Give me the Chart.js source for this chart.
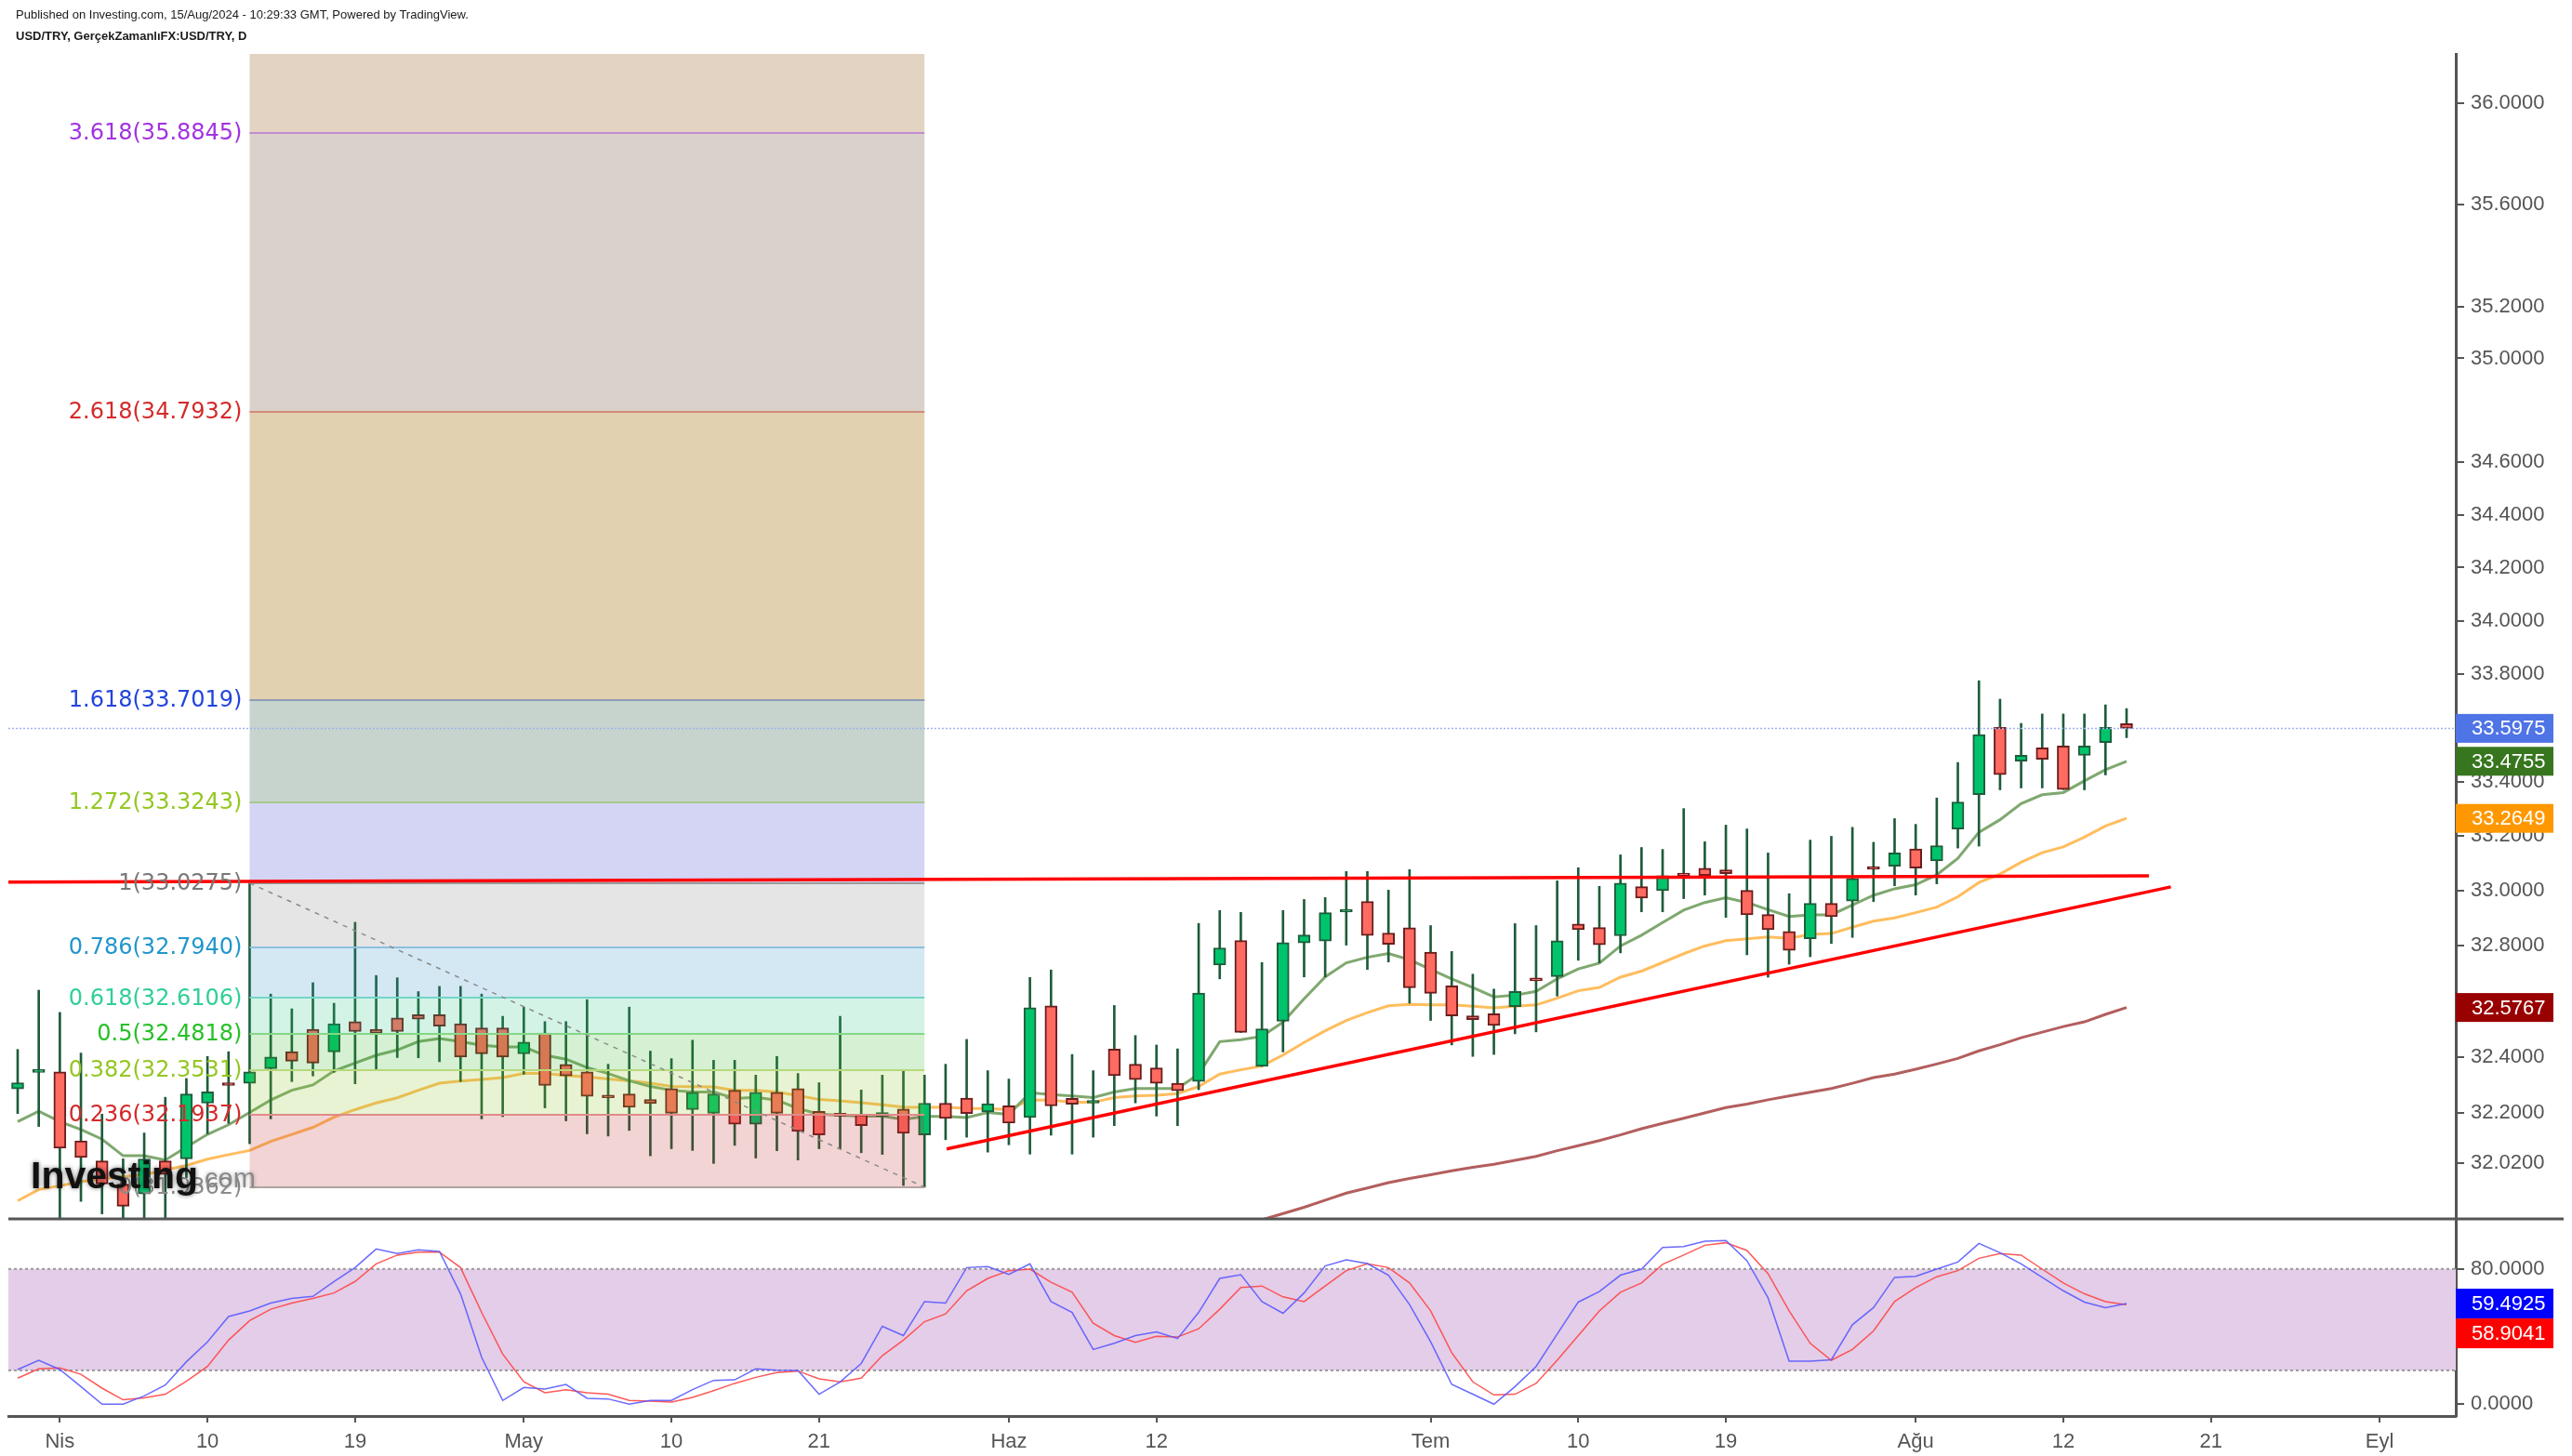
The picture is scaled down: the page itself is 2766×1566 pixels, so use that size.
<!DOCTYPE html>
<html lang="tr">
<head>
<meta charset="utf-8">
<title>USD/TRY</title>
<script src="https://cdn.jsdelivr.net/npm/chart.js@4.4.1/dist/chart.umd.min.js"></script>
<style>
  html, body { margin:0; padding:0; background:#ffffff; }
  #stage { position:relative; width:2766px; height:1566px; overflow:hidden; background:#fff; }
  canvas { position:absolute; left:0; }
  #main { top:0; }
  #osc { top:1281px; }
  .hdr { position:absolute; left:17px; font-family:'Liberation Sans', Arial, sans-serif; font-size:13px; line-height:15px; color:#1a1a1a; white-space:nowrap; }
</style>
</head>
<body>
<div id="stage">
  <canvas id="main" width="2766" height="1340"></canvas>
  <canvas id="osc" width="2766" height="285"></canvas>
  <div class="hdr" style="top:8px;">Published on Investing.com, 15/Aug/2024 - 10:29:33 GMT, Powered by TradingView.</div>
  <div class="hdr" style="top:31px;font-weight:bold;">USD/TRY, GerçekZamanlıFX:USD/TRY, D</div>
</div>
<script>
// ---------------- DATA (daily candles, 28 Mar 2024 .. 15 Aug 2024, index 0..100) ----------------
const open = [
 32.285,32.344,32.346,32.100,32.029,31.947,31.912,32.029,32.036,32.234,
 32.301,32.305,32.357,32.418,32.498,32.417,32.526,32.498,32.539,32.551,
 32.551,32.518,32.503,32.503,32.410,32.485,32.372,32.346,32.257,32.267,
 32.247,32.286,32.211,32.198,32.280,32.159,32.273,32.286,32.205,32.191,
 32.193,32.187,32.213,32.121,32.234,32.252,32.203,32.225,32.183,32.583,
 32.251,32.234,32.427,32.373,32.360,32.305,32.311,32.730,32.819,32.365,
 32.527,32.810,32.817,32.922,32.961,32.846,32.865,32.777,32.655,32.547,
 32.554,32.580,32.676,32.688,32.879,32.866,32.836,33.015,33.000,33.056,
 33.082,33.076,33.001,32.913,32.852,32.825,32.954,32.962,33.082,33.089,
 33.153,33.109,33.226,33.352,33.601,33.476,33.525,33.532,33.497,33.545,
 33.615];
const high = [
 32.426,32.639,32.559,32.413,32.195,32.036,32.128,32.255,32.322,32.401,
 32.418,33.0275,32.625,32.572,32.666,32.592,32.885,32.692,32.684,32.634,
 32.653,32.653,32.625,32.545,32.578,32.526,32.526,32.605,32.373,32.578,
 32.420,32.393,32.459,32.387,32.387,32.334,32.401,32.340,32.307,32.545,
 32.281,32.334,32.354,32.334,32.373,32.462,32.350,32.320,32.685,32.712,
 32.408,32.350,32.584,32.476,32.442,32.428,32.881,32.928,32.921,32.739,
 32.928,32.968,32.975,33.070,33.070,33.002,33.077,32.873,32.779,32.697,
 32.643,32.880,32.873,33.036,33.084,33.016,33.131,33.158,33.151,33.301,
 33.179,33.240,33.226,33.138,32.989,33.185,33.199,33.232,33.177,33.264,
 33.243,33.340,33.471,33.775,33.706,33.616,33.651,33.651,33.651,33.685,
 33.671];
const low = [
 32.197,32.151,31.800,31.886,31.842,31.800,31.800,31.800,31.969,32.125,
 32.162,32.090,32.178,32.311,32.331,32.344,32.303,32.355,32.397,32.396,
 32.382,32.311,32.178,32.186,32.337,32.217,32.171,32.125,32.117,32.137,
 32.047,32.072,32.066,32.020,32.084,32.039,32.065,32.032,32.072,32.072,
 32.058,32.052,31.942,31.9362,32.104,32.113,32.060,32.086,32.053,32.120,
 32.053,32.113,32.154,32.235,32.188,32.154,32.282,32.680,32.487,32.365,
 32.417,32.687,32.687,32.802,32.714,32.741,32.592,32.530,32.442,32.401,
 32.408,32.482,32.489,32.618,32.747,32.738,32.774,32.923,32.923,32.971,
 32.984,32.903,32.767,32.686,32.733,32.760,32.808,32.830,32.960,33.018,
 32.984,33.025,33.156,33.163,33.370,33.377,33.377,33.371,33.370,33.425,
 33.563];
const close = [
 32.307,32.345,32.074,32.041,31.947,31.869,32.036,31.981,32.267,32.274,
 32.297,32.346,32.399,32.384,32.377,32.518,32.490,32.484,32.490,32.535,
 32.510,32.399,32.410,32.399,32.452,32.297,32.331,32.258,32.253,32.219,
 32.233,32.198,32.273,32.267,32.159,32.273,32.198,32.133,32.121,32.188,
 32.154,32.201,32.127,32.234,32.180,32.197,32.232,32.163,32.576,32.224,
 32.230,32.236,32.332,32.318,32.305,32.278,32.629,32.792,32.487,32.500,
 32.811,32.839,32.920,32.924,32.837,32.805,32.648,32.628,32.546,32.533,
 32.512,32.635,32.673,32.818,32.858,32.803,33.028,32.973,33.055,33.054,
 33.055,33.062,32.912,32.858,32.783,32.954,32.905,33.045,33.078,33.138,
 33.083,33.165,33.325,33.574,33.426,33.498,33.483,33.371,33.532,33.601,
 33.5975];
// green moving average
const maFast = [
 32.168,32.205,32.168,32.140,32.106,32.047,32.047,32.032,32.078,32.123,
 32.157,32.201,32.245,32.280,32.299,32.349,32.377,32.405,32.424,32.454,
 32.465,32.454,32.441,32.435,32.435,32.405,32.391,32.361,32.340,32.314,
 32.294,32.280,32.274,32.274,32.251,32.255,32.245,32.215,32.195,32.191,
 32.188,32.188,32.176,32.187,32.187,32.183,32.201,32.194,32.271,32.265,
 32.260,32.254,32.274,32.286,32.286,32.286,32.338,32.454,32.461,32.473,
 32.524,32.608,32.687,32.738,32.758,32.772,32.749,32.714,32.680,32.649,
 32.615,32.621,32.635,32.680,32.716,32.737,32.799,32.838,32.884,32.929,
 32.957,32.974,32.957,32.931,32.906,32.912,32.912,32.948,32.983,33.007,
 33.022,33.058,33.118,33.214,33.260,33.319,33.352,33.360,33.403,33.444,
 33.4755];
// orange moving average
const maMid = [
 31.888,31.928,31.941,31.955,31.966,31.973,31.980,31.997,32.013,32.035,
 32.051,32.066,32.098,32.123,32.148,32.184,32.211,32.235,32.253,32.280,
 32.305,32.313,32.319,32.325,32.340,32.340,32.333,32.328,32.320,32.314,
 32.305,32.294,32.293,32.292,32.280,32.280,32.274,32.261,32.247,32.242,
 32.236,32.228,32.220,32.219,32.220,32.215,32.215,32.211,32.245,32.245,
 32.237,32.237,32.254,32.260,32.262,32.268,32.293,32.338,32.353,32.367,
 32.406,32.451,32.493,32.530,32.558,32.583,32.588,32.586,32.586,32.581,
 32.575,32.581,32.586,32.610,32.637,32.649,32.686,32.708,32.739,32.771,
 32.799,32.818,32.825,32.832,32.827,32.841,32.844,32.867,32.889,32.901,
 32.920,32.940,32.978,33.030,33.061,33.104,33.139,33.160,33.196,33.237,
 33.2649];
// dark red slow moving average (visible from index 58)
const maSlowStart = 58;
const maSlow = [
 31.800,31.821,31.843,31.865,31.890,31.915,31.933,31.952,31.967,31.980,
 31.994,32.006,32.017,32.031,32.045,32.065,32.083,32.101,32.121,32.143,
 32.162,32.180,32.199,32.218,32.231,32.246,32.260,32.273,32.286,32.305,
 32.325,32.338,32.355,32.374,32.394,32.421,32.443,32.468,32.488,32.508,
 32.525,32.552,32.5767];
// Stochastic RSI
const stochK = [
 20.5,26.0,20.5,10.4,0,0,4.9,11.3,25.1,36.9,
 51.9,55.2,59.8,62.6,63.8,72.6,80.8,91.8,89.1,91.3,
 90.4,65.3,27.8,2.2,9.9,9.0,11.7,3.5,3.1,0,
 2.2,2.2,8.6,14.1,14.4,20.9,20.1,19.9,5.9,13.2,
 24.1,46.1,40.6,60.7,59.8,80.8,81.4,76.8,83.0,60.7,
 54.3,32.4,36.0,40.6,42.8,38.8,54.3,74.4,76.6,60.7,
 53.8,65.8,81.8,85.4,83.2,76.3,58.9,36.9,11.7,5.9,
 0,10.4,22.3,41.5,60.4,66.6,76.3,79.9,92.7,93.3,
 96.4,96.8,84.9,62.9,25.4,25.4,26.3,47.0,57.1,75.0,
 75.7,79.9,84.1,95.1,89.6,83.0,75.0,67.1,60.4,57.1,
 59.4925];
const stochD = [
 15.4,20.9,21.4,17.7,9.5,2.6,3.7,5.9,13.5,22.3,
 37.9,49.4,56.2,59.8,62.6,65.8,72.6,83.0,88.2,90.0,
 90.0,80.8,54.3,29.6,13.2,6.8,8.6,6.8,5.9,2.2,
 1.8,1.3,4.0,8.0,12.3,15.9,18.7,19.6,15.0,13.2,
 15.4,28.7,37.9,48.8,53.4,67.1,74.4,79.0,79.9,72.1,
 66.2,47.9,40.6,36.6,40.2,39.7,44.6,56.2,69.0,69.9,
 63.5,60.7,69.9,79.0,83.0,80.8,71.7,55.2,30.5,13.2,
 5.5,5.9,12.3,26.0,40.6,55.2,66.2,71.7,82.7,88.2,
 94.0,95.5,90.9,77.2,55.2,36.0,26.0,32.4,43.3,60.7,
 69.0,75.4,79.0,86.3,89.1,88.2,79.9,71.7,65.3,60.7,
 58.9041];
const stochBand = [20, 80];
// axes
const xTickIdx = [2,9,16,24,31,38,47,54,67,74,81,90,97,104,112];
const xTickLabels = ['Nis','10','19','May','10','21','Haz','12','Tem','10','19','Ağu','12','21','Eyl'];
const yTicks = [32.02,32.2,32.4,32.8,33.0,33.2,33.4,33.8,34.0,34.2,34.4,34.6,35.0,35.2,35.6,36.0];
const oscTicks = [0, 80];
// Fibonacci extension drawing
const fibRatios = ['0','0.236','0.382','0.5','0.618','0.786','1','1.272','1.618','2.618','3.618','4.236'];
const fibPrices = [31.9362,32.1937,32.3531,32.4818,32.6106,32.7940,33.0275,33.3243,33.7019,34.7932,35.8845,36.5589];
const fibStart = 11, fibEnd = 43;
// trend lines [index, price]
const trendHorizontal = [[-0.44,33.031],[101.06,33.054]];
const trendRising = [[44.05,32.071],[102.1,33.014]];
const fibDiagonal = [[11,33.0275],[43,31.9362]];

// ---------------- STYLE ----------------
const FONT = "'Liberation Sans', Arial, sans-serif";
const AXIS = '#555555';
const fibLabelColors = ['#8c8c8c','#d42a2a','#94c722','#27c027','#2fd095','#2196cc','#787878','#94c722','#2244dd','#d42a2a','#a232e0','#e08c00'];
const fibLineColors = ['#b3a3a3','#e08a8a','#b6d97a','#84d884','#74d6c6','#8cc0dd','#9a9a9a','#a9c88e','#8d9bb5','#cf8b79','#c28dd2','#c9a27e'];
const fibBandColors = ['rgba(190,40,40,0.2)','rgba(140,195,35,0.2)','rgba(45,180,35,0.2)','rgba(35,195,130,0.2)','rgba(40,140,195,0.2)','rgba(125,125,125,0.2)','#d4d4f4','#c6d4cd','#e2d1b1','#dad1cb','#e2d3c3'];
const xMin = -0.441, xMax = 115.61;
const yMin = 31.8242, yMax = 36.198;

const pts = a => a.map(p => ({x: p[0], y: p[1]}));
const up = close.map((c, i) => c >= open[i]);
const bodies = close.map((c, i) => ({x: i, y: [Math.min(open[i], c), Math.max(open[i], c)]}));
const wicks = close.map((c, i) => ({x: i, y: [low[i], high[i]]}));

function drawTag(ctx, x, top, h, color, text) {
  ctx.save();
  ctx.fillStyle = color;
  ctx.fillRect(x, top, 105, h);
  ctx.fillStyle = '#ffffff';
  ctx.font = '22px ' + FONT;
  ctx.textBaseline = 'middle';
  ctx.textAlign = 'left';
  ctx.fillText(text, x + 17, top + h / 2 + 1);
  ctx.restore();
}

const mainPlugin = {
  id: 'mainDecor',
  afterDatasetDraw(chart, args) {
    if (args.index !== 3) return;
    const {ctx, chartArea: a, scales: {x, y}} = chart;
    const xl = x.getPixelForValue(fibStart), xr = x.getPixelForValue(fibEnd);
    ctx.save();
    ctx.beginPath(); ctx.rect(a.left, a.top, a.right - a.left, a.bottom - a.top); ctx.clip();
    for (let k = 0; k < fibPrices.length - 1; k++) {
      const y1 = y.getPixelForValue(fibPrices[k]), y2 = y.getPixelForValue(fibPrices[k + 1]);
      ctx.fillStyle = fibBandColors[k];
      ctx.fillRect(xl, y2, xr - xl, y1 - y2);
    }
    ctx.lineWidth = 2;
    for (let k = 0; k < fibPrices.length; k++) {
      const yy = Math.round(y.getPixelForValue(fibPrices[k]));
      ctx.strokeStyle = fibLineColors[k];
      ctx.beginPath(); ctx.moveTo(xl, yy); ctx.lineTo(xr, yy); ctx.stroke();
    }
    ctx.restore();
  },
  afterDatasetsDraw(chart) {
    const {ctx, chartArea: a, scales: {x, y}} = chart;
    ctx.save();
    // last price dotted line
    const yp = Math.round(y.getPixelForValue(close[close.length - 1])) + 0.5;
    ctx.strokeStyle = '#9fb1f0'; ctx.lineWidth = 1.5; ctx.setLineDash([2, 2]);
    ctx.beginPath(); ctx.moveTo(a.left, yp); ctx.lineTo(a.right, yp); ctx.stroke();
    ctx.setLineDash([]);
    // fib labels
    const xl = x.getPixelForValue(fibStart);
    ctx.font = "24px 'DejaVu Sans', Verdana, sans-serif";
    ctx.textAlign = 'right'; ctx.textBaseline = 'middle';
    for (let k = 0; k < fibPrices.length; k++) {
      const yy = y.getPixelForValue(fibPrices[k]);
      if (yy < a.top + 5 || yy > a.bottom) continue;
      ctx.fillStyle = fibLabelColors[k];
      ctx.fillText(fibRatios[k] + '(' + fibPrices[k].toFixed(4) + ')', xl - 8, yy + 1);
    }
    ctx.restore();
  },
  afterDraw(chart) {
    const {ctx, chartArea: a, scales: {y}} = chart;
    ctx.save();
    // panel separator
    ctx.strokeStyle = AXIS; ctx.lineWidth = 3;
    ctx.beginPath(); ctx.moveTo(a.left, a.bottom); ctx.lineTo(chart.width - 9, a.bottom); ctx.stroke();
    // watermark
    ctx.shadowColor = 'rgba(0,0,0,0.55)'; ctx.shadowBlur = 5;
    ctx.fillStyle = '#111111';
    ctx.font = 'bold 41px ' + FONT;
    ctx.textAlign = 'left'; ctx.textBaseline = 'alphabetic';
    ctx.fillText('Investing', 33, 1278);
    ctx.shadowColor = 'rgba(0,0,0,0.3)'; ctx.shadowBlur = 4;
    ctx.fillStyle = '#8a8a8a';
    ctx.font = '29px ' + FONT;
    ctx.fillText('.com', 212, 1277);
    ctx.restore();
    // value tags
    const tags = [
      [close[close.length - 1], '#4f74e6'],
      [maFast[maFast.length - 1], '#37761e'],
      [maMid[maMid.length - 1], '#ff9800'],
      [maSlow[maSlow.length - 1], '#990000']
    ];
    tags.forEach(t => drawTag(ctx, a.right, y.getPixelForValue(t[0]) - 15.5, 31, t[1], t[0].toFixed(4)));
  }
};

new Chart(document.getElementById('main'), {
  type: 'line',
  data: {
    datasets: [
      {type: 'line', data: pts(trendHorizontal), borderColor: '#ff0000', borderWidth: 3.5, pointRadius: 0, order: 0},
      {type: 'line', data: pts(trendRising), borderColor: '#ff0000', borderWidth: 3.5, pointRadius: 0, order: 0},
      {type: 'line', data: pts(fibDiagonal), borderColor: '#8a8a8a', borderWidth: 1.5, borderDash: [5, 6], pointRadius: 0, order: 0},
      {type: 'bar', data: bodies, backgroundColor: up.map(u => u ? '#00c46b' : '#ff6b61'),
       borderColor: up.map(u => u ? '#1e5c3a' : '#6b1d1d'), borderWidth: 2, borderSkipped: false,
       barThickness: 13, maxBarThickness: 13, minBarLength: 3, grouped: false, order: 1, clip: 0},
      {type: 'bar', data: wicks, backgroundColor: '#1e5c3a', borderWidth: 0,
       barThickness: 2, maxBarThickness: 2, grouped: false, order: 2, clip: 0},
      {type: 'line', data: maFast.map((v, i) => ({x: i, y: v})), borderColor: '#7fa86f', borderWidth: 3, pointRadius: 0, order: 3},
      {type: 'line', data: maMid.map((v, i) => ({x: i, y: v})), borderColor: '#ffbd5e', borderWidth: 3, pointRadius: 0, order: 3},
      {type: 'line', data: maSlow.map((v, i) => ({x: maSlowStart + i, y: v})), borderColor: '#b35e5e', borderWidth: 3, pointRadius: 0, order: 3}
    ]
  },
  options: {
    responsive: false, animation: false, events: [],
    layout: {padding: {left: 9, right: 0, top: 58, bottom: 29}},
    plugins: {legend: {display: false}, tooltip: {enabled: false}},
    scales: {
      x: {type: 'linear', min: xMin, max: xMax, display: false, offset: false, bounds: 'data', grid: {offset: false}},
      y: {type: 'logarithmic', position: 'right', min: yMin, max: yMax, bounds: 'data', beginAtZero: false,
          afterFit(s) { s.width = 125; },
          afterBuildTicks(s) { s.ticks = yTicks.map(v => ({value: v})); },
          ticks: {callback: v => Number(v).toFixed(4), autoSkip: false, color: AXIS, padding: 7,
                  font: {family: FONT, size: 22}, major: {enabled: false}},
          grid: {drawOnChartArea: false, drawTicks: true, tickLength: 9, color: AXIS, lineWidth: 2},
          border: {display: true, color: AXIS, width: 3}}
    }
  },
  plugins: [mainPlugin]
});

const oscPlugin = {
  id: 'oscDecor',
  beforeDatasetsDraw(chart) {
    const {ctx, chartArea: a, scales: {y}} = chart;
    const yTop = y.getPixelForValue(stochBand[1]), yBot = y.getPixelForValue(stochBand[0]);
    ctx.save();
    ctx.fillStyle = '#e3cde8';
    ctx.fillRect(a.left, yTop, a.right - a.left, yBot - yTop);
    ctx.strokeStyle = '#9a9a9a'; ctx.lineWidth = 2; ctx.setLineDash([3, 3]);
    [yTop, yBot].forEach(v => { ctx.beginPath(); ctx.moveTo(a.left, v); ctx.lineTo(a.right, v); ctx.stroke(); });
    ctx.restore();
  },
  afterDraw(chart) {
    const {ctx, chartArea: a, scales: {y}} = chart;
    const k = stochK[stochK.length - 1], d = stochD[stochD.length - 1];
    const yk = y.getPixelForValue(k);
    drawTag(ctx, a.right, yk - 16, 32, '#0000ff', k.toFixed(4));
    drawTag(ctx, a.right, yk + 16, 32, '#ff0000', d.toFixed(4));
  }
};

new Chart(document.getElementById('osc'), {
  type: 'line',
  data: {
    datasets: [
      {data: stochK.map((v, i) => ({x: i, y: v})), borderColor: 'rgba(90,90,255,0.9)', borderWidth: 1.5, pointRadius: 0},
      {data: stochD.map((v, i) => ({x: i, y: v})), borderColor: 'rgba(255,70,70,0.9)', borderWidth: 1.5, pointRadius: 0}
    ]
  },
  options: {
    responsive: false, animation: false, events: [],
    layout: {padding: {left: 9, right: 0, top: 30, bottom: 0}},
    plugins: {legend: {display: false}, tooltip: {enabled: false}},
    scales: {
      x: {type: 'linear', min: xMin, max: xMax, offset: false, bounds: 'data', position: 'bottom',
          afterBuildTicks(s) { s.ticks = xTickIdx.map(v => ({value: v})); },
          afterFit(s) { s.height = 43; },
          ticks: {callback: (v, i) => xTickLabels[i], autoSkip: false, maxRotation: 0, minRotation: 0,
                  color: AXIS, padding: 8, font: {family: FONT, size: 22}},
          grid: {drawOnChartArea: false, drawTicks: true, tickLength: 7, color: AXIS, lineWidth: 2},
          border: {display: true, color: AXIS, width: 3}},
      y: {type: 'linear', position: 'right', min: -7, max: 109.6, bounds: 'data',
          afterFit(s) { s.width = 125; },
          afterBuildTicks(s) { s.ticks = oscTicks.map(v => ({value: v})); },
          ticks: {callback: v => Number(v).toFixed(4), autoSkip: false, color: AXIS, padding: 7,
                  font: {family: FONT, size: 22}},
          grid: {drawOnChartArea: false, drawTicks: true, tickLength: 9, color: AXIS, lineWidth: 2},
          border: {display: true, color: AXIS, width: 3}}
    }
  },
  plugins: [oscPlugin]
});
</script>
</body>
</html>
